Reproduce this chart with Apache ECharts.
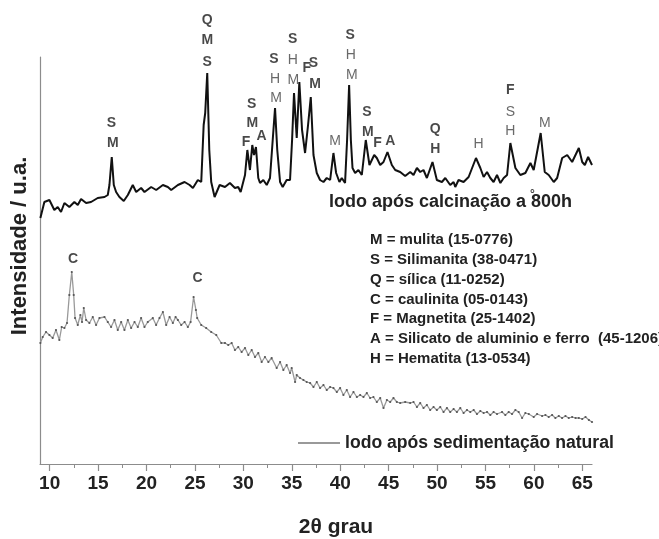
<!DOCTYPE html>
<html><head><meta charset="utf-8">
<script src="https://cdn.jsdelivr.net/npm/echarts@6/dist/echarts.min.js"></script>
<style>html,body{margin:0;padding:0;background:#fff}#c{width:659px;height:539px}</style>
</head><body><div id="c"></div>
<script>
// ---- data (2θ in degrees, intensity in arbitrary units) ----
const calcTheta = [9.04,9.45,9.97,10.48,10.83,11.17,11.52,12.03,12.55,12.9,13.24,13.76,14.27,14.96,15.66,16.0,16.17,16.41,16.62,16.86,17.2,17.65,18.07,18.58,18.93,19.44,19.79,20.48,21.0,21.69,22.2,22.55,23.24,23.93,24.45,24.79,25.3,25.65,25.9,26.06,26.27,26.48,26.68,27.03,27.55,28.1,28.61,29.13,29.47,29.72,30.17,30.41,30.68,30.92,31.1,31.3,31.54,31.72,32.06,32.41,32.75,33.03,33.27,33.5,33.79,34.06,34.47,34.82,35.03,35.23,35.51,35.78,36.06,36.37,36.68,36.96,37.24,37.58,37.92,38.27,38.61,38.96,39.3,39.58,39.92,40.16,40.5,40.71,40.92,41.1,41.27,41.54,41.88,42.23,42.64,43.02,43.51,43.78,44.13,44.47,44.88,45.33,45.68,46.19,46.71,47.23,47.57,47.92,48.26,48.6,48.95,49.53,49.98,50.5,50.85,51.36,51.71,51.88,52.22,52.74,53.26,54.02,54.47,54.81,55.16,55.5,55.84,56.19,56.54,56.88,57.23,57.57,58.09,58.6,59.12,59.64,59.98,60.7,61.12,61.53,62.05,62.4,62.92,63.44,63.95,64.64,64.99,65.26,65.6,66.0];
const calcIntensity = [246,262,264,254,257,252,261,257,262,259,265,261,262,266,267,269,279,307,279,272,267,263,269,279,272,276,272,277,274,279,277,274,279,282,279,276,284,282,339,351,391,314,282,267,279,277,281,276,277,272,289,314,294,319,309,317,286,281,284,279,286,324,356,314,282,277,284,284,324,371,326,382,334,311,339,367,309,291,284,282,286,284,311,291,282,286,281,324,379,324,296,291,294,289,324,299,309,306,299,302,312,299,294,292,288,292,289,296,292,294,286,302,284,282,286,279,282,277,284,282,287,306,296,287,292,286,282,289,281,286,289,321,296,289,291,301,294,331,292,289,282,286,306,309,302,316,302,299,307,299];

const sedTheta = [9.04,9.28,9.62,9.97,10.31,10.65,11.0,11.24,11.52,11.79,12.03,12.28,12.48,12.62,12.9,13.17,13.34,13.52,13.76,14.1,14.45,14.79,15.14,15.66,16.0,16.34,16.69,17.03,17.38,17.72,18.07,18.41,18.76,19.1,19.44,19.79,20.13,20.65,20.99,21.34,21.69,22.03,22.38,22.72,23.0,23.24,23.58,23.93,24.27,24.55,24.86,25.1,25.23,25.65,26.16,26.68,27.2,27.72,28.1,28.44,28.79,29.13,29.47,29.82,30.17,30.51,30.86,31.2,31.54,31.89,32.23,32.58,32.92,33.44,33.79,34.13,34.47,34.82,34.99,35.34,35.51,35.85,36.2,36.54,36.89,37.24,37.58,37.92,38.27,38.61,38.96,39.3,39.65,39.99,40.33,40.68,41.02,41.37,41.72,42.06,42.4,42.75,43.09,43.43,43.78,44.13,44.47,44.82,45.16,45.5,45.85,46.19,46.71,47.23,47.57,47.92,48.26,48.6,48.95,49.29,49.64,49.98,50.33,50.67,51.02,51.36,51.71,52.05,52.4,52.74,53.09,53.43,53.78,54.12,54.47,54.81,55.16,55.5,55.84,56.19,56.71,57.05,57.4,57.74,58.09,58.43,58.78,59.12,59.47,59.98,60.33,60.85,61.19,61.53,61.88,62.22,62.57,62.91,63.26,63.6,63.95,64.3,64.64,64.99,65.33,65.68,66.0];
const sedIntensity = [121,127,132,129,126,134,124,137,136,141,169,192,169,146,139,149,142,156,144,141,147,139,146,147,142,137,144,134,142,134,144,136,142,137,146,137,142,146,139,146,152,139,147,141,147,144,139,142,137,142,167,154,146,139,136,132,129,121,121,119,121,114,117,112,116,109,114,107,111,102,107,102,106,96,102,94,99,91,96,82,89,86,84,82,81,77,82,76,79,74,77,76,72,76,69,74,67,72,67,69,67,71,66,67,62,66,56,64,62,66,62,61,62,61,62,57,61,56,59,54,57,54,57,52,56,52,55,52,56,51,54,52,54,50,53,51,52,49,52,50,52,49,52,50,54,52,46,51,50,47,50,48,49,47,49,46,48,46,48,46,47,46,46,45,47,44,42];

const xTickLabels = [10,15,20,25,30,35,40,45,50,55,60,65];
const xMinorTicks = [12.5,17.5,22.5,27.5,32.5,37.5,42.5,47.5,52.5,57.5,62.5];

// peak annotations: 2θ, height, letter, bold?
const peakTheta  = [16.38,16.51, 26.27,26.27,26.27, 30.86,30.92,31.89,30.27, 33.16,33.27,33.37, 35.1,35.1,35.16, 36.55,37.23,37.4, 41.02,41.1,41.2, 39.47, 42.75,42.85, 43.85,45.16, 49.81,49.81, 54.29, 57.57,57.57,57.57, 61.12, 12.41,25.27];
const peakHeight = [340.7,321, 444,424,402.3, 360,341,328,322.3, 404.7,384.7,365.7, 424.7,404,384, 396,400.7,380, 429,409,389, 323.3, 352.3,332.3, 321.3,323.3, 334.7,314.7, 320, 374,352.3,333.3, 341.3, 204.7,185.7];
const peakLetter = ['S','M', 'Q','M','S', 'S','M','A','F', 'S','H','M', 'S','H','M', 'F','S','M', 'S','H','M', 'M', 'S','M', 'F','A', 'Q','H', 'H', 'F','S','H', 'M', 'C','C'];
const peakBold   = [1,1, 1,1,1, 1,1,1,1, 1,0,0, 1,0,0, 1,1,1, 1,0,0, 0, 1,1, 1,1, 1,1, 0, 1,0,0, 0, 1,1];

const phaseKey = ['M = mulita (15-0776)','S = Silimanita (38-0471)','Q = sílica (11-0252)','C = caulinita (05-0143)','F = Magnetita (25-1402)','A = Silicato de aluminio e ferro  (45-1206)','H = Hematita (13-0534)'];
const seriesNames = ['lodo após calcinação a 800h','lodo após sedimentação natural'];

// ---- chart ----
const FONT = '"Liberation Sans", Arial, Helvetica, sans-serif';
const chart = echarts.init(document.getElementById('c'), null, {renderer:'canvas'});
const zip = (a,b) => a.map((v,i)=>[v,b[i]]);

const graphics = [
  {type:'text', x:20, y:246, rotation:Math.PI/2, style:{text:'Intensidade / u.a.', font:'bold 22px '+FONT, fill:'#222', textAlign:'center', textVerticalAlign:'middle'}},
  {type:'text', x:336, y:527, style:{text:'2θ grau', font:'bold 21px '+FONT, fill:'#222', textAlign:'center', textVerticalAlign:'middle'}},
  {type:'text', x:329, y:202, style:{text:seriesNames[0], font:'bold 18px '+FONT, fill:'#222', textAlign:'left', textVerticalAlign:'middle'}},
  {type:'text', x:530, y:195, style:{text:'°', font:'bold 12px '+FONT, fill:'#444', textAlign:'left', textVerticalAlign:'middle'}}
];
phaseKey.forEach((t,i)=>graphics.push({type:'text', x:370, y:240+i*19.8, style:{text:t, font:'bold 15px '+FONT, fill:'#222', textAlign:'left', textVerticalAlign:'middle'}}));

chart.setOption({
  animation:false,
  backgroundColor:'#fff',
  grid:{left:40, right:67, top:57, bottom:75},
  legend:{data:[seriesNames[1]], left:298, top:434, padding:0, icon:'rect', itemWidth:42, itemHeight:2, itemGap:5,
    itemStyle:{color:'#999'}, textStyle:{fontFamily:FONT, fontWeight:'bold', fontSize:17.6, color:'#222'}},
  xAxis:[
    {type:'value', min:9, max:66,
      axisLine:{show:true, lineStyle:{color:'#8c8c8c', width:1.2}},
      axisTick:{show:true, customValues:xTickLabels, length:7, lineStyle:{color:'#8c8c8c', width:1.2}},
      axisLabel:{customValues:xTickLabels, fontFamily:FONT, fontWeight:'bold', fontSize:19, color:'#222', margin:10},
      splitLine:{show:false}},
    {type:'value', min:9, max:66, position:'bottom',
      axisLine:{show:false},
      axisTick:{show:true, customValues:xMinorTicks, length:4, lineStyle:{color:'#8c8c8c', width:1}},
      axisLabel:{show:false}, splitLine:{show:false}}
  ],
  yAxis:{type:'value', min:0, max:407,
    axisLine:{show:true, lineStyle:{color:'#8c8c8c', width:1.2}},
    axisTick:{show:false}, axisLabel:{show:false}, splitLine:{show:false}},
  graphic:graphics,
  series:[
    {name:seriesNames[0], type:'line', data:zip(calcTheta,calcIntensity), showSymbol:false, symbol:'none',
      lineStyle:{color:'#111', width:2}, z:3},
    {name:seriesNames[1], type:'line', data:zip(sedTheta,sedIntensity), showSymbol:true, symbol:'circle', symbolSize:2.2,
      itemStyle:{color:'#555'}, lineStyle:{color:'#999', width:1.3}, z:2},
    {name:'picos', type:'scatter', symbolSize:0, silent:true, clip:false, z:4,
      data:peakTheta.map((t,i)=>({value:[t,peakHeight[i]], label:{formatter:peakLetter[i], fontWeight:peakBold[i]?'bold':'normal', color:peakBold[i]?'#1a1a1a':'#444'}})),
      label:{show:true, position:'inside', fontFamily:FONT, fontSize:14}}
  ]
});
</script></body></html>
